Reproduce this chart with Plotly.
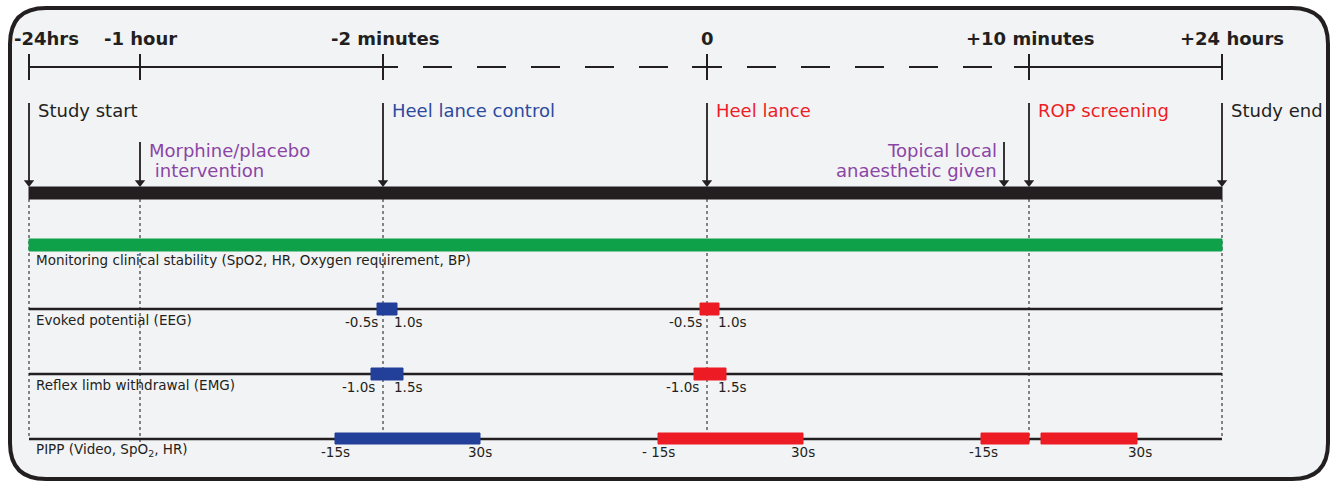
import plotly.graph_objects as go

W, H = 1334, 482

# ---------------- data ----------------
milestone_labels = ["-24hrs", "-1 hour", "-2 minutes", "0", "+10 minutes", "+24 hours"]
milestone_pos = [29, 140, 383, 707, 1029, 1222]          # schematic timeline positions
milestone_shift = [17, 0, 2, 0, 1, 10]

event_lines = [["Study start"], ["Morphine/placebo", "\u00a0intervention"], ["Heel lance control"],
               ["Heel lance"], ["Topical local", "anaesthetic given"], ["ROP screening"], ["Study end"]]
event_pos = [29, 140, 383, 707, 1004, 1029, 1222]
event_tier = [0, 1, 0, 0, 1, 0, 0]
event_color = ["#231f20", "#8b45a5", "#2e4a9e", "#ee1c25", "#8b45a5", "#ee1c25", "#231f20"]
event_side = ["right", "right", "right", "right", "left", "right", "right"]

row_labels = ["Monitoring clinical stability (SpO2, HR, Oxygen requirement, BP)",
              "Evoked potential (EEG)", "Reflex limb withdrawal (EMG)",
              "PIPP (Video, SpO<sub>2</sub>, HR)"]

monitor_start = [29]
monitor_end = [1222]

eeg_start = [377, 700]
eeg_end = [397, 719]
eeg_ref = [383, 707]
eeg_kind = ["control", "lance"]
eeg_tick_labels = ["-0.5s", "1.0s"]

emg_start = [371, 694]
emg_end = [403, 726]
emg_ref = [383, 707]
emg_kind = ["control", "lance"]
emg_tick_labels = ["-1.0s", "1.5s"]

pipp_start = [335, 658, 981, 1041]
pipp_end = [480, 803, 1029, 1137]
pipp_kind = ["control", "lance", "lance", "lance"]
pipp_left_pos = [335, 658, 983]
pipp_left_text = ["-15s", "- 15s", "-15s"]
pipp_right_pos = [480, 803, 1140]
pipp_right_text = ["30s", "30s", "30s"]

# ---------------- style ----------------
INK = "#231f20"
BLUE = "#223f99"
RED = "#ed1c24"
GREEN = "#0fa14a"
KIND_COLOR = {"control": BLUE, "lance": RED}
FONT = "DejaVu Sans"

Y_TOP_LABEL = 38
Y_AXIS = 67
Y_EVENT_TXT = [110, 150]
Y_ARROW_TAIL = [103, 142]
BAR_TOP, BAR_BOT = 187, 199
Y_MON = 245
Y_EEG, Y_EMG, Y_PIPP = 309, 374, 439

shapes = []
ann = []

# frame
x0, x1, y0, y1, r = 10, 1328, 8, 479, 36
path = (f"M {x0+r},{y0} L {x1-r},{y0} Q {x1},{y0} {x1},{y0+r} L {x1},{y1-r} "
        f"Q {x1},{y1} {x1-r},{y1} L {x0+r},{y1} Q {x0},{y1} {x0},{y1-r} "
        f"L {x0},{y0+r} Q {x0},{y0} {x0+r},{y0} Z")
shapes.append(dict(type="path", path=path, xref="x", yref="y",
                   fillcolor="#f2f3f5", line=dict(color=INK, width=4), layer="below"))

def line(xa, ya, xb, yb, color=INK, width=2, dash="solid"):
    shapes.append(dict(type="line", x0=xa, y0=ya, x1=xb, y1=yb, xref="x", yref="y",
                       line=dict(color=color, width=width, dash=dash)))

def rect(xa, ya, xb, yb, color, lc=None):
    shapes.append(dict(type="rect", x0=xa, y0=ya, x1=xb, y1=yb, xref="x", yref="y",
                       fillcolor=color, line=dict(color=lc or color, width=1)))

def text(x, y, s, size=18, color=INK, xanchor="left", bold=False, xshift=0):
    ann.append(dict(x=x, y=y, xref="x", yref="y", text=(f"<b>{s}</b>" if bold else s),
                    showarrow=False, xanchor=xanchor, yanchor="middle", xshift=xshift,
                    font=dict(family=FONT, size=size, color=color)))

# top time axis
mp = milestone_pos
line(mp[0], Y_AXIS, mp[2] + 15, Y_AXIS)
line(mp[2] + 40, Y_AXIS, mp[4] - 37, Y_AXIS, dash="29px,25px")
line(mp[3] - 15, Y_AXIS, mp[3] + 13, Y_AXIS)
line(mp[4] - 15, Y_AXIS, mp[5], Y_AXIS)
for p, lab, sh in zip(milestone_pos, milestone_labels, milestone_shift):
    line(p, 54, p, 80)
    text(p, Y_TOP_LABEL, lab, size=18, bold=True, xanchor="center", xshift=sh)

# dotted guides
for p, yend in zip([29, 140, 383, 707, 1029, 1222], [439, 444, 444, 444, 444, 439]):
    line(p, BAR_BOT, p, yend, color="#3a3a3a", width=1.2, dash="dot")

# main black bar
rect(milestone_pos[0], BAR_TOP, milestone_pos[-1], BAR_BOT, INK)

# events: arrows and labels
head_x, head_y = [], []
for lines_, p, tier, col, side in zip(event_lines, event_pos, event_tier, event_color, event_side):
    line(p, Y_ARROW_TAIL[tier], p, BAR_TOP - 6, width=1.8)
    head_x.append(p)
    head_y.append(BAR_TOP - 4.5)
    for k, s in enumerate(lines_):
        yy = Y_EVENT_TXT[tier] + 20 * k
        if side == "right":
            text(p + 7, yy, s, size=18, color=col, xanchor="left")
        else:
            text(p - 5, yy, s, size=18, color=col, xanchor="right")

# row baselines
for yy in [Y_EEG, Y_EMG, Y_PIPP]:
    line(milestone_pos[0], yy, milestone_pos[-1], yy, width=2.6)

# monitoring bar
for a, b in zip(monitor_start, monitor_end):
    rect(a, Y_MON - 6, b, Y_MON + 6, GREEN)

# row labels
for lab, yy in zip(row_labels, [260, 320, 385, 450]):
    text(34, yy, lab, size=13.5)

# EEG
for a, b, ref, k in zip(eeg_start, eeg_end, eeg_ref, eeg_kind):
    rect(a, Y_EEG - 6, b, Y_EEG + 6, KIND_COLOR[k])
    text(ref - 3, 322, eeg_tick_labels[0], size=13.5, xanchor="right")
    text(ref + 9, 322, eeg_tick_labels[1], size=13.5, xanchor="left")

# EMG
for a, b, ref, k in zip(emg_start, emg_end, emg_ref, emg_kind):
    rect(a, Y_EMG - 6, b, Y_EMG + 6, KIND_COLOR[k])
    text(ref - 6, 387, emg_tick_labels[0], size=13.5, xanchor="right")
    text(ref + 9, 387, emg_tick_labels[1], size=13.5, xanchor="left")

# PIPP
for a, b, k in zip(pipp_start, pipp_end, pipp_kind):
    rect(a, Y_PIPP - 6, b, Y_PIPP + 5, KIND_COLOR[k])
for p, s in zip(pipp_left_pos, pipp_left_text):
    text(p, 452, s, size=13.5, xanchor="center")
for p, s in zip(pipp_right_pos, pipp_right_text):
    text(p, 452, s, size=13.5, xanchor="center")

fig = go.Figure()
fig.add_trace(go.Scatter(x=head_x, y=head_y, mode="markers", hoverinfo="skip",
                         marker=dict(symbol="triangle-down", size=9, color=INK,
                                     line=dict(width=0))))
fig.update_layout(
    width=W, height=H, margin=dict(l=0, r=0, t=0, b=0),
    paper_bgcolor="white", plot_bgcolor="white",
    xaxis=dict(range=[0, W], visible=False, fixedrange=True),
    yaxis=dict(range=[H, 0], visible=False, fixedrange=True),
    shapes=shapes, annotations=ann, showlegend=False,
)
fig.write_html("out.html", config={"displayModeBar": False},
               post_script="document.body.style.margin='0';document.body.style.overflow='hidden';")
